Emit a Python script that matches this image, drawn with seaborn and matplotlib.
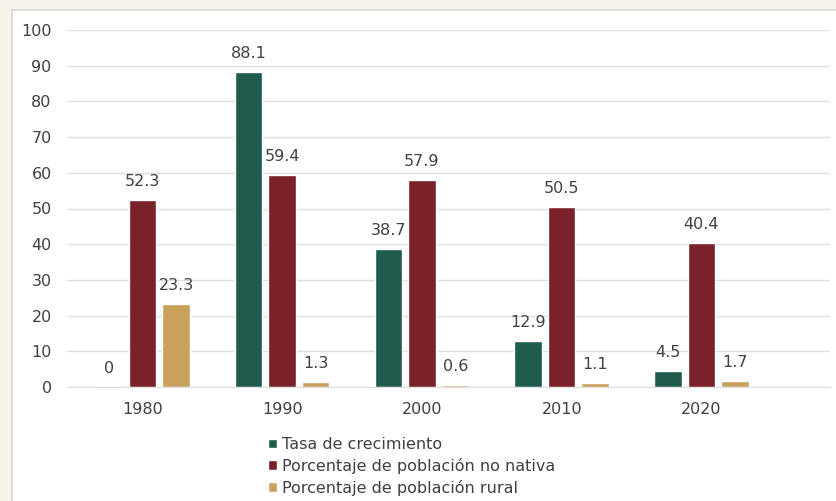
import matplotlib
matplotlib.use("Agg")
import matplotlib.pyplot as plt
from matplotlib.patches import Rectangle
import seaborn as sns
import pandas as pd

# Data
years = ["1980", "1990", "2000", "2010", "2020"]
tasa_crecimiento = [0, 88.1, 38.7, 12.9, 4.5]
no_nativa = [52.3, 59.4, 57.9, 50.5, 40.4]
rural = [23.3, 1.3, 0.6, 1.1, 1.7]
series_names = [
    "Tasa de crecimiento",
    "Porcentaje de población no nativa",
    "Porcentaje de población rural",
]
colors = ["#1F5C4E", "#7B2129", "#C9A05C"]
y_ticks = list(range(0, 101, 10))

df = pd.DataFrame({
    "year": years * 3,
    "value": tasa_crecimiento + no_nativa + rural,
    "serie": [s for s in series_names for _ in years],
})

sns.set_style("white")
plt.rcParams["font.family"] = ["DejaVu Sans"]
text_color = "#404040"

fig = plt.figure(figsize=(8.37, 5.01), dpi=100)
fig.patch.set_facecolor("#F6F2EA")
# white panel with light border, drawn behind the axes
panel = Rectangle((12 / 837, -0.05), 1.0, 1 - 10 / 501 + 0.05,
                  transform=fig.transFigure, facecolor="white",
                  edgecolor="#D6D6D6", linewidth=1.2, zorder=-10)
fig.add_artist(panel)

ax = fig.add_axes([67 / 837, 114 / 501, 763 / 837, 357 / 501])
ax.set_facecolor("none")
ax.set_zorder(1)

sns.barplot(data=df, x="year", y="value", hue="serie", palette=colors,
            width=0.72, gap=0.18, ax=ax, saturation=1, errorbar=None)

for cont in ax.containers:
    ax.bar_label(cont, fmt="%g", padding=8, fontsize=11.5, color=text_color)

ax.set_ylim(0, 100)
ax.set_xlim(-0.54, 4.92)
ax.set_yticks(y_ticks)
ax.grid(axis="y", color="#DEDEDE", linewidth=1)
ax.set_axisbelow(True)
for side in ["top", "right", "left"]:
    ax.spines[side].set_visible(False)
ax.spines["bottom"].set_color("#DEDEDE")
ax.tick_params(axis="both", length=0, labelsize=11.5, colors=text_color)
ax.tick_params(axis="y", pad=11)
ax.tick_params(axis="x", pad=11)
ax.set_xlabel("")
ax.set_ylabel("")

sns.move_legend(ax, "upper left", bbox_to_anchor=(268 / 837, 1 - 437 / 501),
                bbox_transform=fig.transFigure, frameon=False, title=None,
                fontsize=11.5, handlelength=0.55, handleheight=0.55,
                handletextpad=0.3, labelspacing=0.36, borderaxespad=0,
                borderpad=0, labelcolor=text_color)

fig.savefig("out.png", dpi=100, facecolor=fig.get_facecolor())
